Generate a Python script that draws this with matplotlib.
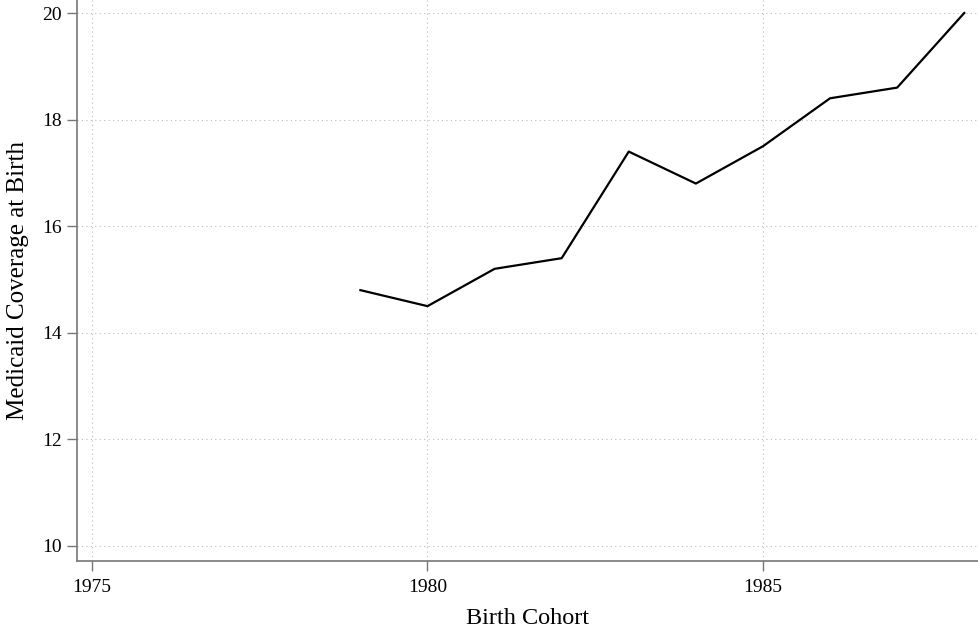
import matplotlib
matplotlib.use("Agg")
import matplotlib.pyplot as plt

# birth cohort vs. medicaid coverage at birth
years = [1979, 1980, 1981, 1982, 1983, 1984, 1985, 1986, 1987, 1988]
coverage = [14.8, 14.5, 15.2, 15.4, 17.4, 16.8, 17.5, 18.4, 18.6, 20.0]
xticks = [1975, 1980, 1985]
yticks = [10, 12, 14, 16, 18, 20]

plt.rcParams['font.family'] = ['Liberation Serif', 'DejaVu Serif']

fig = plt.figure(figsize=(9.79, 6.30), dpi=100)
ax = fig.add_axes([77/979, 69.3/630, 902/979, 560.7/630])

ax.plot(years, coverage, color='black', lw=1.6, zorder=3)

ax.set_xlim(1974.776, 1988.22)
ax.set_ylim(9.724, 20.244)
ax.set_xticks(xticks)
ax.set_yticks(yticks)
ax.grid(True, linestyle=(0, (1, 3)), color='#bbbbbb', lw=0.8)

for s in ['top', 'right']:
    ax.spines[s].set_visible(False)
for s in ['left', 'bottom']:
    ax.spines[s].set_color('#777777')
    ax.spines[s].set_linewidth(1.2)

ax.tick_params(axis='both', direction='out', length=7, width=1, color='#777777',
               labelsize=14)
ax.tick_params(axis='x', pad=6)
ax.tick_params(axis='y', pad=4)

ax.set_xlabel('Birth Cohort', fontsize=17.5, labelpad=9)
ax.set_ylabel('Medicaid Coverage at Birth', fontsize=18, labelpad=9)

fig.savefig('out.png', dpi=100)
